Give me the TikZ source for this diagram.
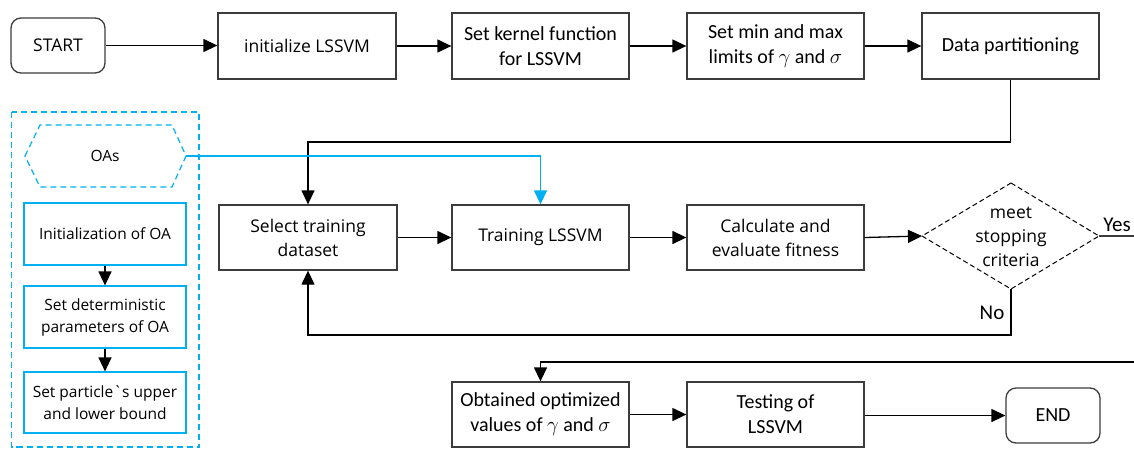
\documentclass[tikz,border=0pt]{standalone}
\usepackage{fontspec}
\setmainfont{Carlito}
\newfontfamily\segf{Open Sans}
\usetikzlibrary{arrows.meta,positioning}
\definecolor{oablue}{RGB}{0,176,240}
\definecolor{linegray}{RGB}{60,60,60}
\begin{document}
\begin{tikzpicture}[x=1pt,y=-1pt,
  cal/.style={font=\fontsize{20}{25}\selectfont},
  seg/.style={font=\segf\fontsize{17.5}{24}\selectfont},
  segs/.style={font=\segf\fontsize{15.5}{22}\selectfont},
  box/.style={draw=linegray, line width=1.3pt, minimum width=177pt, minimum height=66pt, align=center, inner sep=0pt},
  term/.style={box, rounded corners=10pt, minimum width=94pt, minimum height=55pt},
  oabox/.style={draw=oablue, line width=1.2pt, minimum width=162pt, minimum height=62pt, align=center, inner sep=0pt, segs},
  conn/.style={draw=black, line width=1.3pt, -{Triangle[length=14pt,width=13pt]}},
  plain/.style={draw=linegray, line width=1.3pt},
  bconn/.style={draw=oablue, line width=1.3pt, -{Triangle[length=14pt,width=13pt]}}
]
\useasboundingbox (0,0) rectangle (1134,448);
% top row
\node[term, seg] (start) at (58,45.5) {START};
\node[box, seg, minimum width=178pt] (init) at (307,46) {initialize LSSVM};
\node[box, cal] (setk) at (540.5,46) {Set kernel function\\for LSSVM};
\node[box, cal] (setmin) at (775.5,46) {Set min and max\\limits of $\gamma$ and $\sigma$};
\node[box, cal] (data) at (1010.5,46) {Data partitioning};
% middle row
\node[box, seg, minimum width=178pt, minimum height=65pt] (select) at (308,237.5) {Select training\\dataset};
\node[box, seg, minimum height=65pt] (train) at (540.5,237.5) {Training LSSVM};
\node[box, seg, minimum height=65pt] (calc) at (775.5,237.5) {Calculate and\\evaluate fitness};
\coordinate (critT) at (1011,183);
\coordinate (critR) at (1099,236);
\coordinate (critB) at (1011,289);
\coordinate (critL) at (922,236);
\draw[black, line width=1pt, dash pattern=on 5pt off 3pt] (critT) -- (critR) -- (critB) -- (critL) -- cycle;
\node[seg, align=center, inner sep=0pt] (crit) at (1011,237) {meet\\stopping\\criteria};
\node[cal, font=\fontsize{21}{25}\selectfont, anchor=center, inner sep=0pt] (yes) at (1117,225) {Yes};
\node[cal, font=\fontsize{21}{25}\selectfont, anchor=center, inner sep=0pt] (no) at (992,313) {No};
\coordinate (yesEnd) at (1134,236);
\coordinate (backIn) at (1134,362);
% bottom row
\node[box, cal, minimum height=65pt] (obt) at (540.5,414.5) {Obtained optimized\\values of $\gamma$ and $\sigma$};
\node[box, cal, minimum height=65pt] (test) at (775.5,414.5) {Testing of\\LSSVM};
\node[term, cal] (end) at (1053,415.5) {END};
% left panel
\draw[oablue, line width=1.2pt, dash pattern=on 6pt off 4pt] (11.5,112) rectangle (199,447);
\draw[oablue, line width=1.2pt, dash pattern=on 6pt off 4pt] (25,156) -- (40,125) -- (172,125) -- (186,156) -- (172,187) -- (40,187) -- cycle;
\node[segs, inner sep=0pt] (oas) at (105,156) {OAs};
\coordinate (oasR) at (186,156);
\node[oabox] (oainit) at (105,234) {Initialization of OA};
\node[oabox] (oadet) at (105,317) {Set deterministic\\parameters of OA};
\node[oabox, minimum height=61pt] (oapart) at (105,402.5) {Set particle\symbol{96}s upper\\and lower bound};
% connectors
\draw[conn] (start) -- (init.west |- start);
\draw[conn] (init) -- (setk);
\draw[conn] (setk) -- (setmin);
\draw[conn] (setmin) -- (data);
\draw[conn] (data.south) -- (1010.5,142) -- (308,142) -- (select.north);
\draw[bconn] (oasR) -- (540.5,156) -- (train.north);
\draw[conn] (select) -- (train);
\draw[conn] (train) -- (calc);
\draw[conn] (calc.east) -- (critL);
\draw[plain] (critR) -- (yesEnd);
\draw[conn] (critB) -- (1011,335) -- (308,335) -- (select.south);
\draw[conn] (backIn) -- (540.5,362) -- (obt.north);
\draw[conn] (obt) -- (test);
\draw[conn] (test.east |- end) -- (end.west);
\draw[conn] (oainit) -- (oadet);
\draw[conn] (oadet) -- (oapart);
\end{tikzpicture}
\end{document}
